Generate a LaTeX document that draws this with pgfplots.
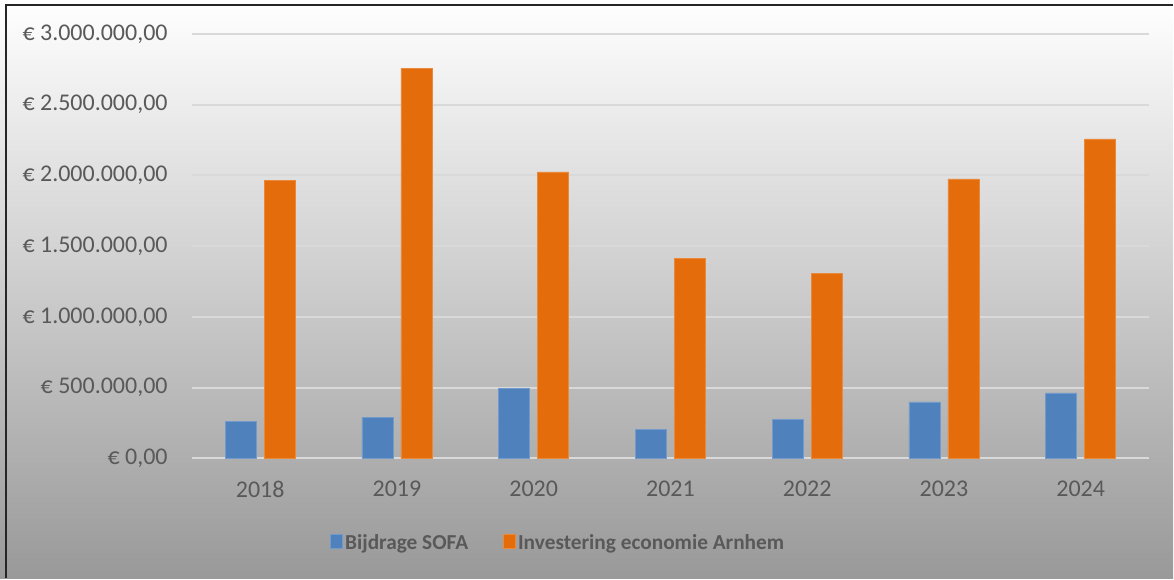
\documentclass[border=0pt]{standalone}
\usepackage{pgfplots}
\pgfplotsset{compat=1.18}
\usepackage{fontspec}
\setmainfont{Carlito}
\definecolor{sofablue}{HTML}{4F81BD}
\definecolor{arnorange}{HTML}{E46C0A}
\definecolor{txtgray}{HTML}{595959}
\definecolor{gridgray}{HTML}{D9D9D9}
\begin{document}
\begin{tikzpicture}
\shade[top color=white, bottom color=gray!80] (0pt,0pt) rectangle (880.5pt,434.25pt);
\draw[line width=1.5pt, black!85] (4.5pt,0pt) -- (4.5pt,430.5pt) -- (880.5pt,430.5pt);
\begin{axis}[
  at={(144pt,90.2pt)}, anchor=south west,
  scale only axis, width=718.5pt, height=318.5pt,
  xmin=-0.5, xmax=6.5, ymin=0, ymax=3000000,
  axis line style={draw=none},
  major tick length=0pt,
  ymajorgrids, grid style={gridgray, line width=1.5pt},
  ytick={0,500000,1000000,1500000,2000000,2500000,3000000},
  yticklabels={{€ 0,00},{€ 500.000,00},{€ 1.000.000,00},{€ 1.500.000,00},{€ 2.000.000,00},{€ 2.500.000,00},{€ 3.000.000,00}},
  xtick={0,1,2,3,4,5,6},
  xticklabels={2018,2019,2020,2021,2022,2023,2024},
  ticklabel style={font=\fontsize{18}{20}\selectfont, text=txtgray, inner sep=0pt},
  yticklabel style={xshift=-18pt},
  xticklabel style={yshift=-17pt},
  scaled y ticks=false,
  ybar=6pt, bar width=23.25pt,
  legend columns=2,
  legend style={at={(0.383,-0.1985)}, anchor=center, draw=none, fill=none,
    font=\fontsize{16}{18}\selectfont\bfseries, text=txtgray,
    nodes={inner sep=2pt},
    /tikz/every even column/.append style={column sep=24pt}},
  legend image code/.code={\fill[#1] (0pt,-4.5pt) rectangle (9pt,6pt);},
]
\addplot[fill=sofablue, draw=sofablue!80!white, line width=0.4pt] coordinates {
  (0,263000) (1,289000) (2,496000) (3,207000) (4,277000) (5,399000) (6,463000)};
\addplot[fill=arnorange, draw=arnorange!80!white, line width=0.4pt] coordinates {
  (0,1963000) (1,2759000) (2,2026000) (3,1416000) (4,1305000) (5,1975000) (6,2259000)};
\legend{Bijdrage SOFA, Investering economie Arnhem}
\end{axis}
\end{tikzpicture}
\end{document}
